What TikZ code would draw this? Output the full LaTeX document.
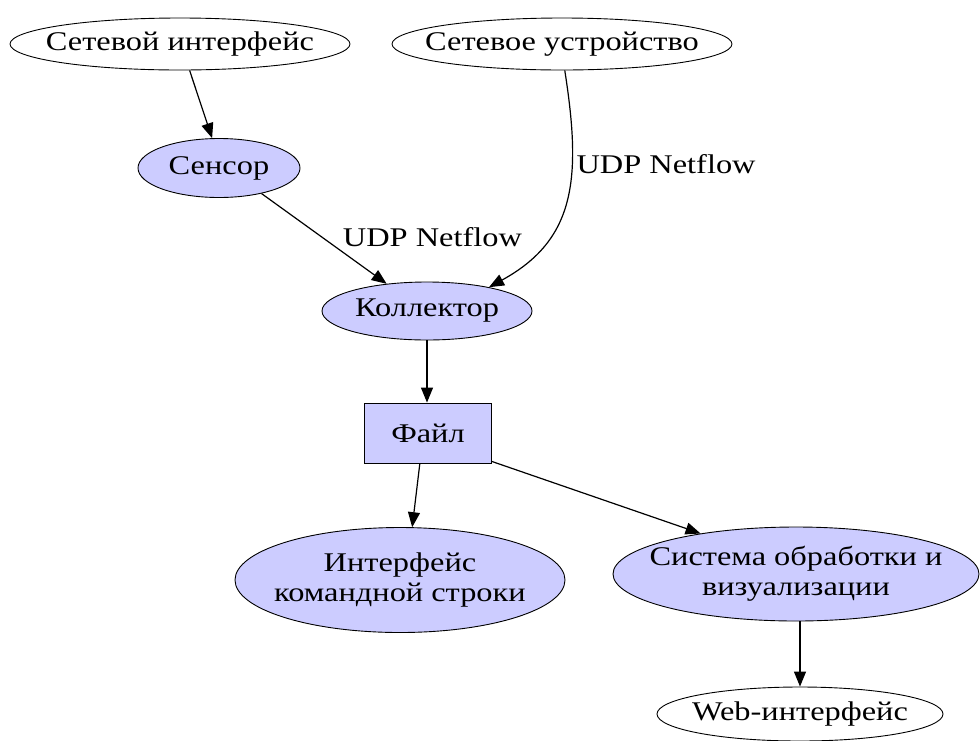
\documentclass[tikz,border=0pt]{standalone}
\usepackage{fontspec}
\setmainfont{Liberation Serif}[FakeStretch=1.2]
\usetikzlibrary{shapes.geometric,arrows.meta}
\definecolor{lav}{RGB}{204,204,255}
\tikzset{
  base/.style={draw=black, line width=0.9pt, inner sep=0pt},
  plain/.style={base, ellipse, fill=white},
  proc/.style={base, ellipse, fill=lav},
  filebox/.style={base, rectangle, fill=lav},
  txt/.style={font=\fontsize{27}{30}\selectfont, align=center, inner sep=0pt},
  arr/.style={draw=black, line width=1.2pt, -{Triangle[length=15pt,width=12pt]}},
  lbl/.style={font=\fontsize{27}{30}\selectfont, inner sep=0pt}
}
\begin{document}
\begin{tikzpicture}[x=1pt, y=-1pt]
  \useasboundingbox (0,0) rectangle (980,740);
  % sources
  \node[plain, minimum width=340pt, minimum height=52pt] (nic) at (180,44) {};
  \node[txt] (nic-t) at (nic) {Сетевой интерфейс};
  \node[plain, minimum width=340pt, minimum height=52pt] (dev) at (562,44) {};
  \node[txt] (dev-t) at (dev) {Сетевое устройство};
  % processing chain
  \node[proc, minimum width=162pt, minimum height=59pt] (sens) at (219,168) {};
  \node[txt] (sens-t) at (sens) {Сенсор};
  \node[proc, minimum width=210pt, minimum height=58pt] (coll) at (427,311) {};
  \node[txt] (coll-t) at (coll) {Коллектор};
  \node[filebox, minimum width=127pt, minimum height=60pt] (file) at (428,433) {};
  \node[txt] (file-t) at (file) {Файл};
  \node[proc, minimum width=330pt, minimum height=105pt] (cli) at (400,580) {};
  \node[txt] (cli-t) at (cli) {Интерфейс\\командной строки};
  \node[proc, minimum width=366pt, minimum height=94pt] (vis) at (796,574) {};
  \node[txt] (vis-t) at (vis) {Система обработки и\\визуализации};
  \node[plain, minimum width=286pt, minimum height=54pt] (web) at (800,714) {};
  \node[txt] (web-t) at (web) {Web-интерфейс};
  % connectors
  \draw[arr] (nic.-70) -- (sens.103);
  \draw[arr] (sens.-31) -- node[lbl, pos=0.55, anchor=south west, xshift=12pt, yshift=-4pt] {UDP Netflow} (coll.146);
  \draw[arr] (dev.-84) .. controls (582,180) and (575,240) .. node[lbl, pos=0.33, anchor=west, xshift=4pt] {UDP Netflow} (coll.21);
  \draw[arr] (coll.south) -- (coll.south |- file.north);
  \draw[arr] (file.-105) -- (cli.77);
  \draw[arr] (file.-24) -- (vis.157);
  \draw[arr] (vis.south -| web.north) -- (web.north);
\end{tikzpicture}
\end{document}
